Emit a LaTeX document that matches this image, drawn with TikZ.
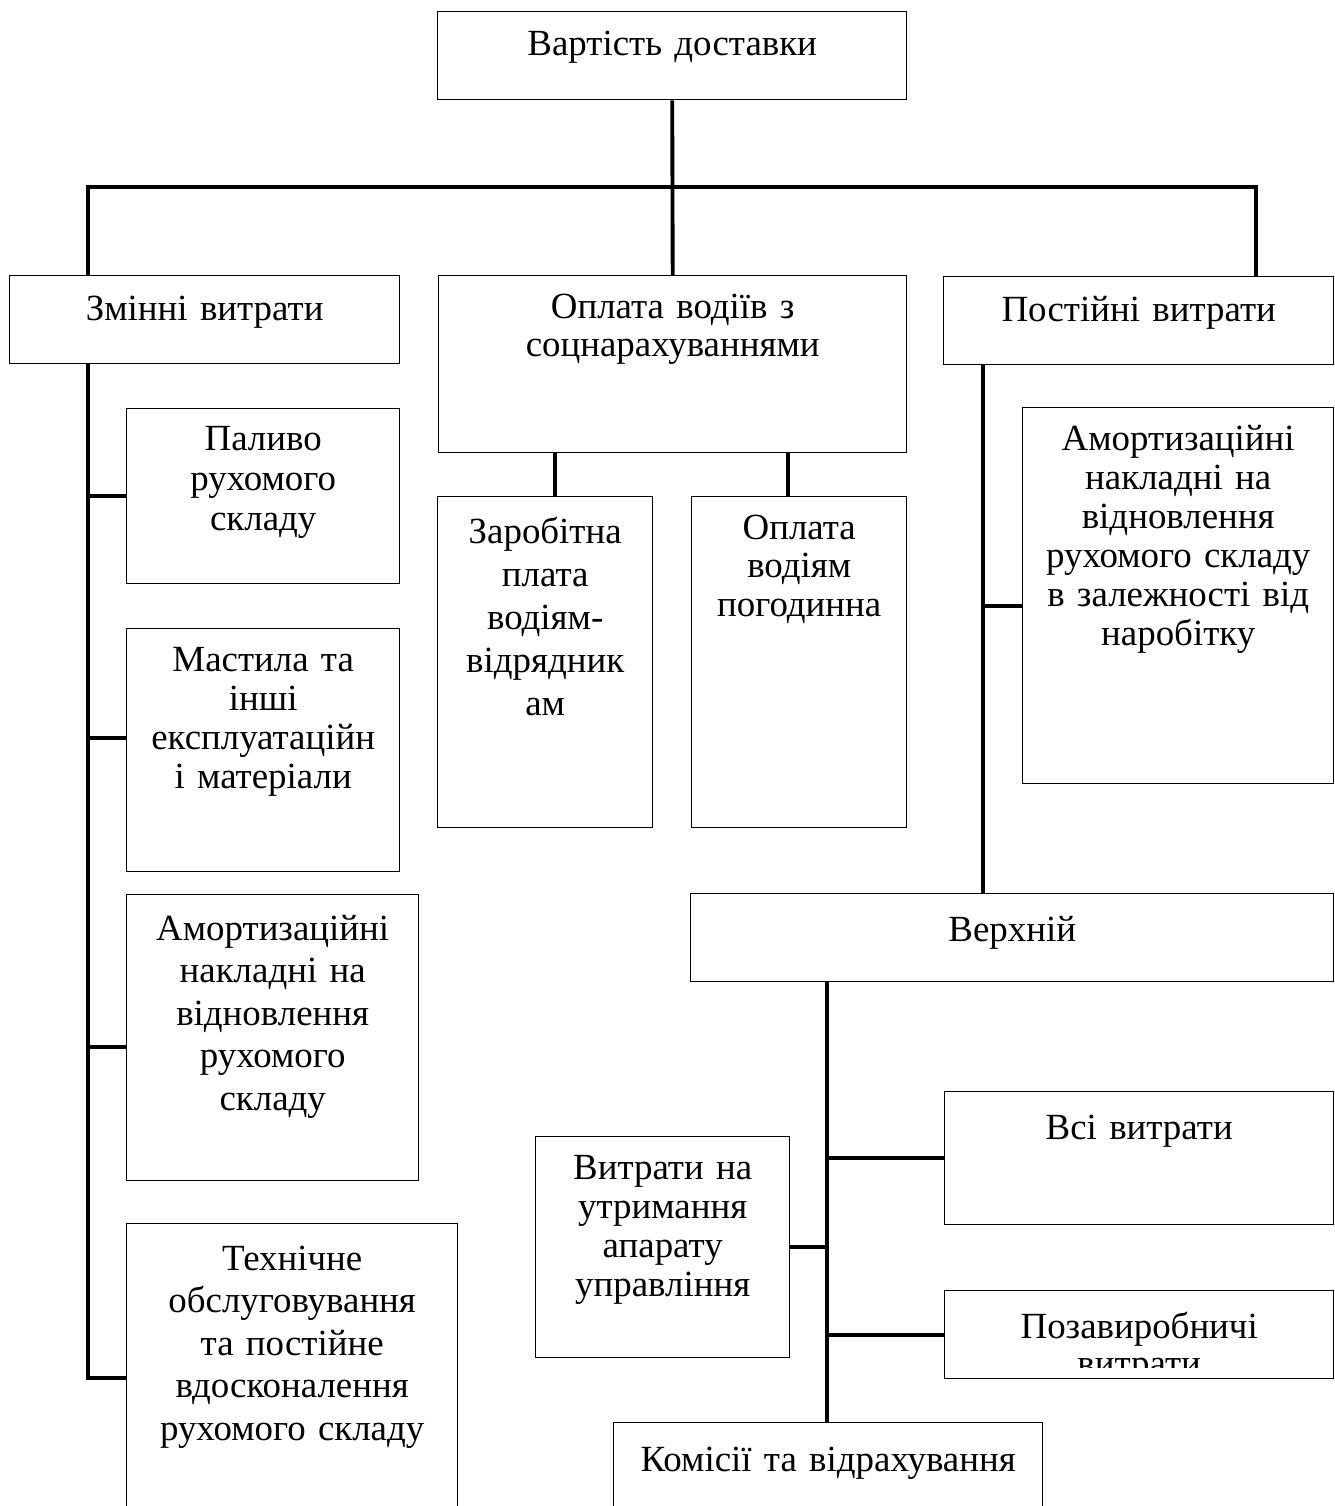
\documentclass[tikz,border=0pt]{standalone}
\usepackage{fontspec}
\setmainfont{Liberation Serif}
\tikzset{
  costbox/.style 2 args={draw, line width=0.8pt, anchor=north west, inner sep=0pt,
    minimum width=#1*0.02cm, minimum height=#2*0.02cm},
  costtext/.style={anchor=base, align=center, inner sep=0pt, text width=#1*0.02cm},
  leading/.style={font=\fontsize{21pt}{#1pt}\selectfont},
  link/.style={draw, line width=2.2pt},
}
\begin{document}
\begin{tikzpicture}[x=0.02cm, y=-0.02cm, leading=22.4]
  \clip (0,0) rectangle (1334,1506);

  % boxes
  \node[costbox={469}{88}]  (total)    at (437,11)   {};
  \node[costbox={390}{88}]  (zminni)   at (9,275)    {};
  \node[costbox={468}{177}] (oplata)   at (438,275)  {};
  \node[costbox={390}{88}]  (postiyni) at (943,276)  {};
  \node[costbox={273}{175}] (palyvo)   at (126,408)  {};
  \node[costbox={273}{243}] (mastyla)  at (126,628)  {};
  \node[costbox={292}{286}] (amortL)   at (126,894)  {};
  \node[costbox={331}{320}] (tekh)     at (126,1223) {};
  \node[costbox={215}{331}] (zarplata) at (437,496)  {};
  \node[costbox={215}{331}] (pohod)    at (691,496)  {};
  \node[costbox={311}{376}] (amortR)   at (1022,407) {};
  \node[costbox={643}{88}]  (verkh)    at (690,893)  {};
  \node[costbox={389}{133}] (vsi)      at (944,1091) {};
  \node[costbox={254}{221}] (utrym)    at (535,1136) {};
  \node[costbox={389}{88}]  (poza)     at (944,1290) {};
  \node[costbox={429}{120}] (komisii)  at (613,1422) {};

  % texts
  \node[costtext=450] (total-t) at ([shift={(0,45)}]total.north) {Вартість доставки};
  \node[costtext=370] (zminni-t) at ([shift={(0,46)}]zminni.north) {Змінні витрати};
  \node[costtext=450, leading=21.5] (oplata-t) at ([shift={(0,44)}]oplata.north)
    {Оплата водіїв з\\соцнарахуваннями};
  \node[costtext=370] (postiyni-t) at ([shift={(0,46)}]postiyni.north) {Постійні витрати};
  \node[costtext=260, leading=22.7] (palyvo-t) at ([shift={(0,43)}]palyvo.north)
    {Паливо\\рухомого\\складу};
  \node[costtext=260, leading=22.3] (mastyla-t) at ([shift={(0,43)}]mastyla.north)
    {Мастила та\\інші\\експлуатаційн\\і матеріали};
  \node[costtext=280, leading=24.2] (amortL-t) at ([shift={(0,46)}]amortL.north)
    {Амортизаційні\\накладні на\\відновлення\\рухомого\\складу};
  \node[costtext=320, leading=24.2] (tekh-t) at ([shift={(0,47)}]tekh.north)
    {Технічне\\обслуговування\\та постійне\\вдосконалення\\рухомого складу};
  \node[costtext=205, leading=24.6] (zarplata-t) at ([shift={(0,47)}]zarplata.north)
    {Заробітна\\плата\\водіям-\\відрядник\\ам};
  \node[costtext=205, leading=22.1] (pohod-t) at ([shift={(0,43)}]pohod.north)
    {Оплата\\водіям\\погодинна};
  \node[costtext=300, leading=22.1] (amortR-t) at ([shift={(0,44)}]amortR.north)
    {Амортизаційні\\накладні на\\відновлення\\рухомого складу\\в залежності від\\наробітку};
  \node[costtext=600] (verkh-t) at ([shift={(0,48)}]verkh.north) {Верхній};
  \node[costtext=370] (vsi-t) at ([shift={(0,48)}]vsi.north) {Всі витрати};
  \node[costtext=244, leading=22.3] (utrym-t) at ([shift={(0,43)}]utrym.north)
    {Витрати на\\утримання\\апарату\\управління};
  \begin{scope}
    \clip (poza.north west) rectangle (poza.east |- 0,1367);
    \node[costtext=370, leading=21.5] (poza-t) at ([shift={(0,48)}]poza.north)
      {Позавиробничі\\витрати};
  \end{scope}
  \node[costtext=420] (komisii-t) at ([shift={(0,49)}]komisii.north) {Комісії та відрахування};

  % connectors
  \coordinate (barL) at (88,187);
  \coordinate (barR) at (1256,187);
  \draw[link] (total.south) -- (oplata.north);
  \draw[link] (barL |- zminni.north) -- (barL) -- (barR) -- (barR |- postiyni.north);
  \draw[link] (barL |- zminni.south) -- (barL |- 0,1378) -- (tekh.west |- 0,1378);
  \draw[link] (barL |- 0,496)  -- (palyvo.west |- 0,496);
  \draw[link] (barL |- 0,738)  -- (mastyla.west |- 0,738);
  \draw[link] (barL |- 0,1047) -- (amortL.west |- 0,1047);
  \draw[link] (555,0 |- oplata.south) -- (555,0 |- zarplata.north);
  \draw[link] (788,0 |- oplata.south) -- (788,0 |- pohod.north);
  \draw[link] (983,0 |- postiyni.south) -- (983,0 |- verkh.north);
  \draw[link] (983,606) -- (amortR.west |- 0,606);
  \draw[link] (827,0 |- verkh.south) -- (827,0 |- komisii.north);
  \draw[link] (827,0 |- vsi.west) -- (vsi.west);
  \draw[link] (827,0 |- utrym.east) -- (utrym.east);
  \draw[link] (827,0 |- poza.west) -- (poza.west);
\end{tikzpicture}
\end{document}
